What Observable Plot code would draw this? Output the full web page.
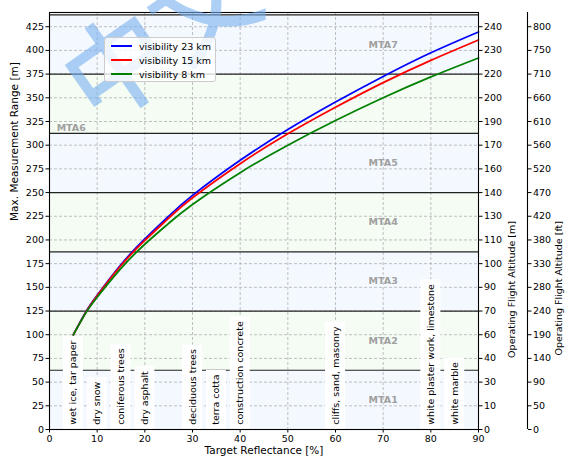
<!DOCTYPE html>
<html><head><meta charset="utf-8">
<script src="https://cdn.jsdelivr.net/npm/d3@7"></script>
<script src="https://cdn.jsdelivr.net/npm/@observablehq/plot@0.6"></script>
<style>
body{margin:0;background:#fff;font-family:"DejaVu Sans",sans-serif;}
#wrap{position:relative;width:565px;height:461px;overflow:hidden;background:#fff;}
#wrap svg{display:block;}
#watermark{position:absolute;left:52px;top:-22px;width:210px;height:105px;text-align:center;font-family:"Noto Sans CJK SC",sans-serif;font-weight:500;font-size:105px;color:rgba(120,175,238,0.6);transform:rotate(-35deg);transform-origin:50% 50%;white-space:nowrap;pointer-events:none;line-height:105px;}
#legend{position:absolute;left:104px;top:37px;width:112px;height:45px;box-sizing:border-box;background:rgba(255,255,255,0.8);border:1px solid #cccccc;border-radius:3px;font-size:9.5px;}
.row{position:absolute;left:0;height:14px;display:flex;align-items:center;}
.sw{width:21px;height:0;border-top:2px solid;margin-left:6px;margin-right:7px;}
</style></head>
<body>
<div id="wrap"></div>
<script>
// ---- data ----
const reflectance = [5, 7.5, 10, 15, 20, 25, 30, 40, 50, 60, 70, 80, 90];
const vis23 = [100, 123, 141.5, 174, 201, 225, 247, 284, 316.5, 345.5, 372.5, 397.5, 419.5];
const vis15 = [100, 122.5, 141, 173, 199.5, 223, 244.5, 280.5, 312, 340, 366, 389.5, 411];
const vis8  = [100, 122, 139.5, 170, 195.5, 217.5, 237.5, 271, 300, 326, 350, 372, 392];
const seriesNames = ["visibility 23 km", "visibility 15 km", "visibility 8 km"];
const seriesColors = ["#0000ff", "#ff0000", "#008000"];

const mtaNames = ["MTA1", "MTA2", "MTA3", "MTA4", "MTA5", "MTA6", "MTA7"];
const mtaBounds = [0, 62.5, 125, 187.5, 250, 312.5, 375, 437.5];
const mtaLabelX = [70, 70, 70, 70, 70, 1.5, 70];
const mtaLabelY = [31.25, 93.75, 156.25, 218.75, 281.25, 318.5, 406.25];

const materials = ["wet ice, tar paper", "dry snow", "coniferous trees", "dry asphalt",
  "deciduous trees", "terra cotta", "construction concrete", "cliffs, sand, masonry",
  "white plaster work, limestone", "white marble"];
const materialX = [5, 10, 15, 20, 30, 35, 40, 60, 80, 85];
const materialBase = 5;

const xTicks = [0, 10, 20, 30, 40, 50, 60, 70, 80, 90];
const rangeTicks = [0, 25, 50, 75, 100, 125, 150, 175, 200, 225, 250, 275, 300, 325, 350, 375, 400, 425];
const altM = [0, 10, 30, 40, 60, 70, 90, 100, 110, 130, 140, 160, 170, 190, 200, 220, 230, 240];
const altFt = [0, 50, 90, 140, 190, 240, 280, 330, 380, 420, 470, 520, 560, 610, 660, 710, 750, 800];

const xTitle = "Target Reflectance [%]";
const yTitle = "Max. Measurement Range [m]";
const y2Title = "Operating Flight Altitude [m]";
const y3Title = "Operating Flight Altitude [ft]";
const watermarkText = "中文";

// ---- tables ----
const allSeries = [vis23, vis15, vis8];
const lineData = allSeries.flatMap((vals, s) => vals.map((v, i) => ({x: reflectance[i], y: v, s: seriesNames[s]})));
const bands = mtaNames.map((n, i) => ({n, lo: mtaBounds[i], hi: mtaBounds[i + 1], even: i % 2 === 1}));
const mtaLabels = mtaNames.map((n, i) => ({n, x: mtaLabelX[i], y: mtaLabelY[i], left: n === "MTA6"}));
const tickIdx = d => rangeTicks.indexOf(d);

const font = {fontSize: 9.5, fill: "black"};
const mtaStyle = {x: "x", y: "y", text: "n", fontWeight: "bold", fontSize: 9.5, fill: "#a0a0a0"};
const plot = Plot.plot({
  width: 565, height: 461,
  marginTop: 12, marginBottom: 32, marginLeft: 49, marginRight: 87,
  style: {fontFamily: "DejaVu Sans", fontSize: "9.5px", background: "white", overflow: "visible"},
  x: {domain: [0, 90], label: null},
  y: {domain: [0, 440], label: null},
  color: {domain: seriesNames, range: seriesColors},
  marks: [
    Plot.rect(bands, {y1: "lo", y2: "hi", fill: d => d.even ? "#f4fcf4" : "#f4f9ff"}),
    Plot.gridX(xTicks, {stroke: "#b0b0b0", strokeOpacity: 1, strokeDasharray: "3,2", strokeWidth: 0.8}),
    Plot.gridY(rangeTicks, {stroke: "#b0b0b0", strokeOpacity: 1, strokeDasharray: "3,2", strokeWidth: 0.8}),
    Plot.ruleY(mtaBounds.slice(1), {stroke: "#222", strokeWidth: 1.2}),
    Plot.text(materials, {x: (d, i) => materialX[i], y: () => materialBase, text: d => d, rotate: -90, textAnchor: "start", ...font}),
    Plot.line(lineData, {x: "x", y: "y", z: "s", stroke: "s", strokeWidth: 1.8, curve: "natural"}),
    Plot.text(mtaLabels.filter(d => !d.left), {...mtaStyle, textAnchor: "middle"}),
    Plot.text(mtaLabels.filter(d => d.left), {...mtaStyle, textAnchor: "start"}),
    Plot.frame({stroke: "black", strokeWidth: 1.1}),
    Plot.axisX(xTicks, {tickSize: 3.5, tickPadding: 2, label: null, ...font}),
    Plot.axisY(rangeTicks, {anchor: "left", tickSize: 3.5, tickPadding: 2, label: null, ...font}),
    Plot.axisY(rangeTicks, {anchor: "right", tickSize: 3.5, tickPadding: 2, label: null, tickFormat: d => altM[tickIdx(d)], ...font}),
    Plot.ruleX([90], {dx: 49, stroke: "black", strokeWidth: 1.1}),
    Plot.axisY(rangeTicks, {anchor: "right", dx: 49, tickSize: 3.5, tickPadding: 2, label: null, tickFormat: d => altFt[tickIdx(d)], ...font}),
    Plot.text([xTitle], {frameAnchor: "bottom", dy: 24, fontSize: 10.5, fill: "black"}),
    Plot.text([yTitle], {frameAnchor: "left", dx: -35, rotate: -90, fontSize: 10.5, fill: "black"}),
    Plot.text([y2Title], {frameAnchor: "right", dx: 33, rotate: -90, fontSize: 9.5, fill: "black"}),
    Plot.text([y3Title], {frameAnchor: "right", dx: 80, rotate: -90, fontSize: 9.5, fill: "black"})
  ]
});

const wrap = document.getElementById("wrap");
wrap.appendChild(plot);

// white boxes behind material labels
const matSet = new Set(materials);
plot.querySelectorAll("text").forEach(t => {
  if (!matSet.has(t.textContent)) return;
  const bb = t.getBBox();
  const r = document.createElementNS("http://www.w3.org/2000/svg", "rect");
  r.setAttribute("x", bb.x - 4.5);
  r.setAttribute("y", bb.y - 4.5);
  r.setAttribute("width", bb.width + 9);
  r.setAttribute("height", bb.height + 9);
  r.setAttribute("fill", "white");
  r.setAttribute("stroke", "none");
  const tr = t.getAttribute("transform");
  if (tr) r.setAttribute("transform", tr);
  t.parentNode.insertBefore(r, t);
});

// watermark
const wm = document.createElement("div");
wm.id = "watermark";
wm.textContent = watermarkText;
wrap.appendChild(wm);

// legend
const lg = document.createElement("div");
lg.id = "legend";
seriesNames.forEach((n, i) => {
  const row = document.createElement("div");
  row.className = "row";
  row.style.top = (1 + i * 14) + "px";
  const sw = document.createElement("span");
  sw.className = "sw";
  sw.style.borderTopColor = seriesColors[i];
  const tx = document.createElement("span");
  tx.textContent = n;
  row.appendChild(sw); row.appendChild(tx);
  lg.appendChild(row);
});
wrap.appendChild(lg);
</script>
</body></html>
